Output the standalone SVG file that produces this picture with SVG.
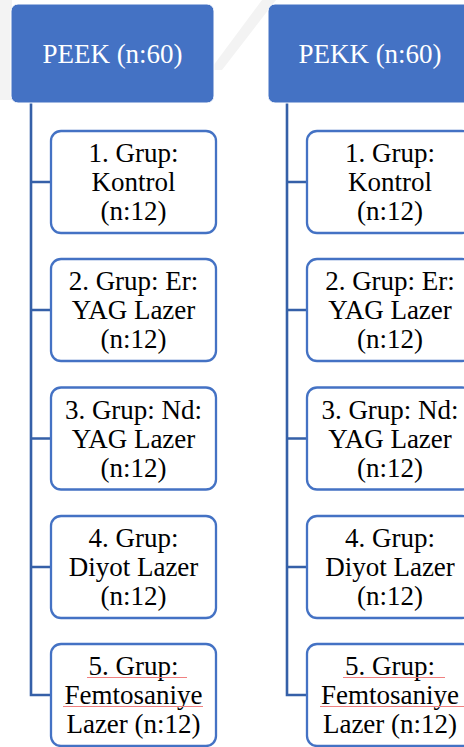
<svg xmlns="http://www.w3.org/2000/svg" width="464" height="747" viewBox="0 0 464 747">
<style>
.bg{fill:#f3f3f3}
.head rect{fill:#4472C4;stroke:#ffffff;stroke-width:1}
.head text{fill:#ffffff;font-size:27px;text-anchor:middle}
.child rect{fill:#ffffff;stroke:#4472C4;stroke-width:2.3}
.child text{fill:#000000;font-size:27px;text-anchor:middle}
.conn path{fill:none;stroke:#3560A8;stroke-width:2.6}
.spell{stroke:#F08080;stroke-width:1;fill:none}
</style>
<rect width="464" height="747" fill="#ffffff"/>
<g id="watermark">
<polygon class="bg" points="0,0 12,0 12,100 0,100"/>
<polygon class="bg" points="262,0 276,0 222,70 210,70"/>
</g>
<g class="conn" id="connectors">
<path d="M31,103 V695 H51"/>
<path d="M31,182 H51 M31,310 H51 M31,438.5 H51 M31,567 H51"/>
<path d="M287,103 V695 H307"/>
<path d="M287,182 H307 M287,310 H307 M287,438.5 H307 M287,567 H307"/>
</g>
<g font-family="'Liberation Serif', 'Times New Roman', Tinos, 'DejaVu Serif', serif">
<g class="head" id="peek">
<rect x="11" y="4" width="203" height="99" rx="7"/>
<text x="112.5" y="63">PEEK (n:60)</text>
</g>
<g class="head" id="pekk">
<rect x="268" y="4" width="204" height="99" rx="7"/>
<text x="370" y="63">PEKK (n:60)</text>
</g>
<g class="child" id="peek-g1">
<rect x="51" y="131" width="165" height="102" rx="10"/>
<text x="133.5" y="162">1. Grup:</text>
<text x="133.5" y="191">Kontrol</text>
<text x="133.5" y="220">(n:12)</text>
</g>
<g class="child" id="peek-g2">
<rect x="51" y="259" width="165" height="102" rx="10"/>
<text x="133.5" y="290">2. Grup: Er:</text>
<text x="133.5" y="319">YAG Lazer</text>
<text x="133.5" y="348">(n:12)</text>
</g>
<g class="child" id="peek-g3">
<rect x="51" y="387.5" width="165" height="102" rx="10"/>
<text x="133.5" y="418.5">3. Grup: Nd:</text>
<text x="133.5" y="447.5">YAG Lazer</text>
<text x="133.5" y="476.5">(n:12)</text>
</g>
<g class="child" id="peek-g4">
<rect x="51" y="516" width="165" height="102" rx="10"/>
<text x="133.5" y="547">4. Grup:</text>
<text x="133.5" y="576">Diyot Lazer</text>
<text x="133.5" y="605">(n:12)</text>
</g>
<g class="child" id="peek-g5">
<rect x="51" y="644" width="165" height="102" rx="10"/>
<text x="133.5" y="675">5. Grup:</text>
<text x="133.5" y="704">Femtosaniye</text>
<text x="133.5" y="733">Lazer (n:12)</text>
<path class="spell" d="M87,677.5 H187 M63,706.5 H203"/>
</g>
<g class="child" id="pekk-g1">
<rect x="307" y="131" width="165" height="102" rx="10"/>
<text x="390" y="162">1. Grup:</text>
<text x="390" y="191">Kontrol</text>
<text x="390" y="220">(n:12)</text>
</g>
<g class="child" id="pekk-g2">
<rect x="307" y="259" width="165" height="102" rx="10"/>
<text x="390" y="290">2. Grup: Er:</text>
<text x="390" y="319">YAG Lazer</text>
<text x="390" y="348">(n:12)</text>
</g>
<g class="child" id="pekk-g3">
<rect x="307" y="387.5" width="165" height="102" rx="10"/>
<text x="390" y="418.5">3. Grup: Nd:</text>
<text x="390" y="447.5">YAG Lazer</text>
<text x="390" y="476.5">(n:12)</text>
</g>
<g class="child" id="pekk-g4">
<rect x="307" y="516" width="165" height="102" rx="10"/>
<text x="390" y="547">4. Grup:</text>
<text x="390" y="576">Diyot Lazer</text>
<text x="390" y="605">(n:12)</text>
</g>
<g class="child" id="pekk-g5">
<rect x="307" y="644" width="165" height="102" rx="10"/>
<text x="390" y="675">5. Grup:</text>
<text x="390" y="704">Femtosaniye</text>
<text x="390" y="733">Lazer (n:12)</text>
<path class="spell" d="M343,677.5 H445 M320,706.5 H464"/>
</g>
</g>
</svg>
